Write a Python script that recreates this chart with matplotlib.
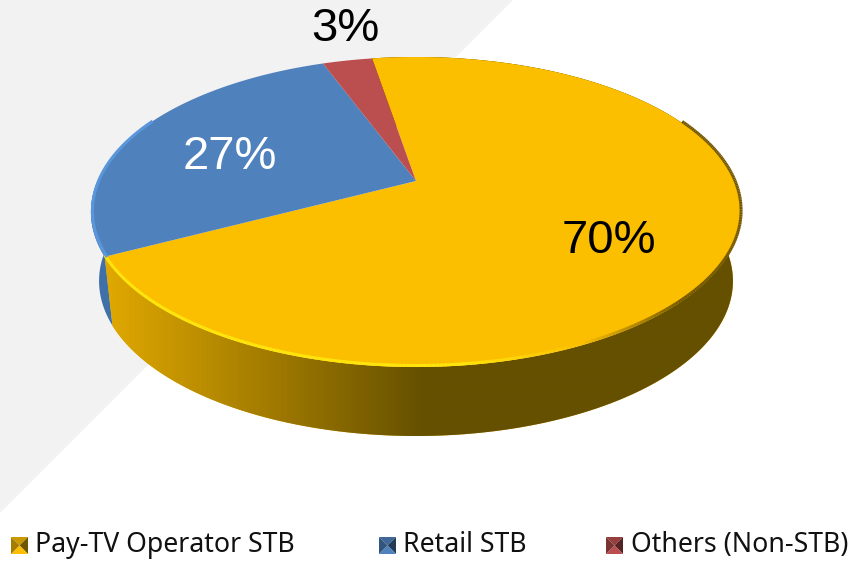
import matplotlib
matplotlib.use('Agg')
import matplotlib.pyplot as plt
import numpy as np
from matplotlib.collections import LineCollection
from matplotlib.colors import LinearSegmentedColormap
from matplotlib.patches import Polygon

# data
categories = ['Pay-TV Operator STB', 'Retail STB', 'Others (Non-STB)']
shares = [70, 27, 3]
labels = ['70%', '27%', '3%']

# style
topColors = ['#fcbf00', '#4f81bd', '#bb4f4f']
wallColors = ['#e0a800', '#4070a8', '#8f3b3a']
labelColors = ['black', 'white', 'black']
labelPos = [(609, 241), (230, 157), (345, 29)]
legendBox = [11, 379, 606]
legendText = [35, 403, 631]

START_ANGLE = 99.5
CX, CY = 416, 181
WIDE, TALL, TILT = 318.5, 148.8, 0.2
DEPTH = 69


def project(t, scale=1.0, drop=0):
    # disc seen in perspective, so the centre sits above the middle of the ellipse
    t = np.radians(t)
    x, y = np.cos(t), np.sin(t)
    w = 1 + TILT * y
    return np.column_stack((CX + scale * WIDE * x / w, CY + drop - TALL * y / w))


fig = plt.figure(figsize=(8.54, 5.63), dpi=100)
ax = fig.add_axes([0, 0, 1, 1])
ax.axis('off')

# grey corner behind the pie
ax.add_patch(Polygon([(0, 0), (513, 0), (0, 513)], color='#f2f2f2', lw=0, zorder=0))

edges = START_ANGLE - np.cumsum([0] + shares) * 3.6
arcs = [np.linspace(edges[i], edges[i + 1], 200) for i in range(len(shares))]

# walls
for i, arc in enumerate(arcs):
    if i == 1:
        arc = np.linspace(edges[1], -180, 60)
    elif i == 2:
        continue
    wall = np.vstack((project(arc), project(arc[::-1], 0.975, DEPTH)))
    patch = Polygon(wall, color=wallColors[i], lw=0, zorder=1)
    ax.add_patch(patch)
    if i == 0:
        cmap = LinearSegmentedColormap.from_list('wall', ['#e0a800', '#655000', '#655000'])
        shade = np.linspace(0, 1, 400).reshape(1, -1)
        img = ax.imshow(shade, extent=(105, 745, 0, 563), cmap=cmap, aspect='auto', zorder=2)
        img.set_clip_path(patch)

# top faces
for i, arc in enumerate(arcs):
    face = np.vstack((project(arc), [[CX, CY]]))
    ax.add_patch(Polygon(face, color=topColors[i], lw=0, zorder=3))

# bevel along the rim
rimArc = np.linspace(-152.5, 25, 300)
pts = project(rimArc) + np.array([0, -1.5])
rimColors = []
for x in pts[:-1, 0]:
    if x < 460:
        rimColors.append((1.0, 0.9, 0.05, 1.0))
    elif x < 580:
        rimColors.append((1.0, 0.9, 0.05, max(0, (580 - x) / 120)))
    else:
        rimColors.append((0.45, 0.34, 0.0, min(1, (x - 580) / 100)))
segments = np.stack((pts[:-1], pts[1:]), axis=1)
ax.add_collection(LineCollection(segments, colors=rimColors, linewidths=2.2, zorder=4))
blueRim = project(np.linspace(-152.5, -205, 60)) + np.array([1.5, -1])
ax.plot(blueRim[:, 0], blueRim[:, 1], color='#5a96dc', lw=2.2, zorder=4)

for text, pos, col in zip(labels, labelPos, labelColors):
    ax.text(pos[0], pos[1], text, color=col, fontsize=34, family='Liberation Sans',
            ha='center', va='center', zorder=5)

# legend
for i, name in enumerate(categories):
    x0, y0, size = legendBox[i], 537, 17
    c = np.array(matplotlib.colors.to_rgb(topColors[i]))
    mid = (x0 + size / 2, y0 + size / 2)
    corners = [(x0, y0), (x0 + size, y0), (x0 + size, y0 + size), (x0, y0 + size)]
    for j, bright in enumerate([0.8, 0.45, 1.0, 0.65]):
        tri = [corners[j], corners[(j + 1) % 4], mid]
        ax.add_patch(Polygon(tri, color=tuple(c * bright), lw=0, zorder=5))
    ax.text(legendText[i], 545, name, fontsize=19.2, family='Noto Sans', color='#111111',
            ha='left', va='center', zorder=5)

ax.set_xlim(0, 854)
ax.set_ylim(563, 0)
fig.savefig('out.png', dpi=100)
